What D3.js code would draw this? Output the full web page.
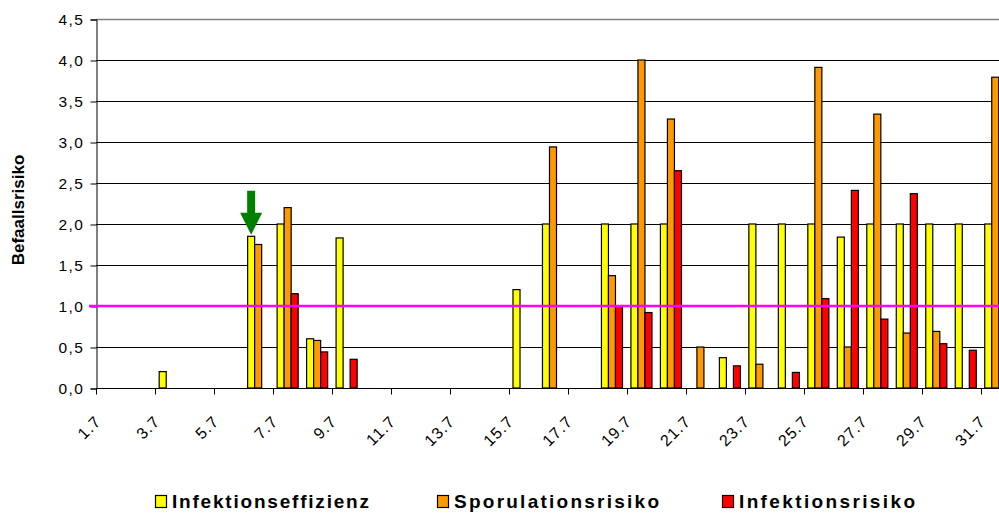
<!DOCTYPE html>
<html>
<head>
<meta charset="utf-8">
<script src="https://cdn.jsdelivr.net/npm/d3@7"></script>
<style>
  html, body { margin: 0; padding: 0; background: #fff; }
  svg { display: block; font-family: "Liberation Sans", Arial, sans-serif; }
</style>
</head>
<body>
<svg id="chart" width="999" height="513"></svg>
<script>
// ---- data ----
const days = ["1.7","2.7","3.7","4.7","5.7","6.7","7.7","8.7","9.7","10.7","11.7","12.7","13.7","14.7","15.7","16.7","17.7","18.7","19.7","20.7","21.7","22.7","23.7","24.7","25.7","26.7","27.7","28.7","29.7","30.7","31.7"];
const seriesNames = ["Infektionseffizienz", "Sporulationsrisiko", "Infektionsrisiko"];
const seriesColors = ["#ffff00", "#ff9900", "#ff0000"];
const infektionseffizienz = [null,null,0.2,null,null,1.85,2.0,0.6,1.83,null,null,null,null,null,1.2,2.0,null,2.0,2.0,2.0,null,0.37,2.0,2.0,2.0,1.84,2.0,2.0,2.0,2.0,2.0];
const sporulationsrisiko  = [null,null,null,null,null,1.75,2.2,0.58,null,null,null,null,null,null,null,2.94,null,1.37,4.0,3.28,0.5,null,0.29,null,3.91,0.5,3.34,0.67,0.69,null,3.79];
const infektionsrisiko    = [null,null,null,null,null,null,1.15,0.44,0.35,null,null,null,null,null,null,null,null,1.0,0.92,2.65,null,0.27,null,0.19,1.09,2.41,0.84,2.37,0.54,0.46,null];
const yTicks = [0,0.5,1.0,1.5,2.0,2.5,3.0,3.5,4.0,4.5];
const thresholdValue = 1.0;
const arrowDay = "6.7";
const yTitle = "Befaallsrisiko";

const seriesValues = [infektionseffizienz, sporulationsrisiko, infektionsrisiko];

// ---- layout ----
const svg = d3.select("#chart");
const mLeft = 96, mRight = 1010, mTop = 19, mBottom = 388;

const x = d3.scaleBand().domain(days).range([mLeft, mRight]).padding(0);
const x1 = d3.scaleBand().domain(seriesNames).range([0, x.bandwidth()]).paddingInner(0).paddingOuter(0.6);
const y = d3.scaleLinear().domain([0, 4.5]).range([mBottom, mTop]);

const fmt = v => d3.format(".1f")(v).replace(".", ",");

// gridlines
svg.append("g").selectAll("line").data(yTicks.filter(t => t > 0)).join("line")
  .attr("x1", mLeft).attr("x2", mRight)
  .attr("y1", d => Math.round(y(d)) + 0.5).attr("y2", d => Math.round(y(d)) + 0.5)
  .attr("stroke", d => d === 4.5 ? "#808080" : "#000")
  .attr("stroke-width", d => d === 4.5 ? 1.5 : 1);

// y axis
const yAxis = d3.axisLeft(y).tickValues(yTicks).tickFormat(fmt).tickSize(6).tickPadding(6);
const gy = svg.append("g").attr("transform", `translate(${mLeft + 0.5},0.5)`).call(yAxis);
gy.select(".domain").attr("stroke", "#000");
gy.selectAll(".tick line").attr("stroke", "#000");
gy.selectAll(".tick text").attr("font-size", 15.5).attr("fill", "#000")
  .attr("letter-spacing", "1.5px").attr("font-family", "'Liberation Sans', Arial, sans-serif");

// bars
const groups = svg.append("g").selectAll("g").data(days).join("g")
  .attr("transform", d => `translate(${x(d)},0)`);
groups.selectAll("rect")
  .data((d, i) => seriesNames.map((s, k) => ({ s, k, v: seriesValues[k][i] })).filter(o => o.v != null))
  .join("rect")
  .attr("x", o => x1(o.s))
  .attr("width", x1.bandwidth())
  .attr("y", o => y(o.v))
  .attr("height", o => y(0) - y(o.v))
  .attr("fill", o => seriesColors[o.k])
  .attr("stroke", "#000")
  .attr("stroke-width", 1.2);

// x axis
const gx = svg.append("g").attr("transform", `translate(0,${mBottom + 0.5})`);
gx.append("line").attr("x1", mLeft).attr("x2", mRight).attr("stroke", "#000");
const labelDays = days.filter((d, i) => i % 2 === 0);
gx.selectAll("line.tick").data(labelDays).join("line").attr("class", "tick")
  .attr("x1", d => Math.round(x(d)) + 0.5).attr("x2", d => Math.round(x(d)) + 0.5)
  .attr("y1", 0).attr("y2", 6).attr("stroke", "#000");
gx.selectAll("text").data(labelDays).join("text")
  .attr("transform", d => `translate(${x(d) + 6},34) rotate(-45)`)
  .attr("text-anchor", "end")
  .attr("font-size", 16)
  .attr("letter-spacing", "1px")
  .attr("fill", "#000")
  .text(d => d);

// threshold line
svg.append("line")
  .attr("x1", mLeft - 7).attr("x2", mRight)
  .attr("y1", y(thresholdValue)).attr("y2", y(thresholdValue))
  .attr("stroke", "#ff00ff").attr("stroke-width", 2.4);

// arrow annotation
const ax = x(arrowDay) + x1(seriesNames[0]) + x1.bandwidth() / 2;
const aTip = y(infektionseffizienz[days.indexOf(arrowDay)]) - 1.5;
svg.append("path")
  .attr("d", `M${ax - 4},${aTip - 44} L${ax + 4},${aTip - 44} L${ax + 4},${aTip - 22} L${ax + 11},${aTip - 22} L${ax},${aTip} L${ax - 11},${aTip - 22} L${ax - 4},${aTip - 22} Z`)
  .attr("fill", "#008000");

// y title
svg.append("text")
  .attr("transform", `translate(24,210) rotate(-90)`)
  .attr("text-anchor", "middle")
  .attr("font-size", 17).attr("font-weight", "bold")
  .text(yTitle);

// legend
const legendX = [155, 437, 722];
const legendW = [197, 205, 176];
const lg = svg.append("g").selectAll("g").data(seriesNames).join("g")
  .attr("transform", (d, i) => `translate(${legendX[i]},495)`);
lg.append("rect").attr("x", 0.5).attr("y", 0.5).attr("width", 11).attr("height", 12)
  .attr("fill", (d, i) => seriesColors[i]).attr("stroke", "#000").attr("stroke-width", 1.2);
lg.append("text").attr("x", 17).attr("y", 13)
  .attr("font-size", 19).attr("font-weight", "bold")
  .attr("textLength", (d, i) => legendW[i]).attr("lengthAdjust", "spacing")
  .text(d => d);
</script>
</body>
</html>
